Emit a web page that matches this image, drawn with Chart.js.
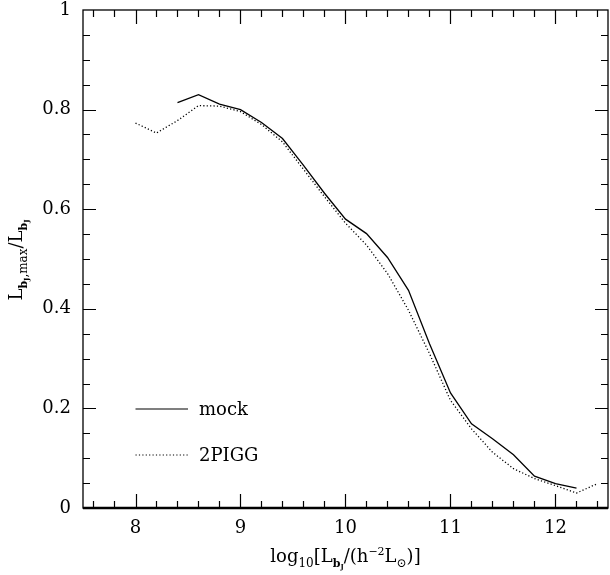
<!DOCTYPE html>
<html>
<head>
<meta charset="utf-8">
<script src="https://cdn.jsdelivr.net/npm/chart.js@4.4.1/dist/chart.umd.min.js"></script>
<style>
  html, body { margin: 0; padding: 0; background: #fff; }
  #wrap { width: 610px; height: 575px; }
</style>
</head>
<body>
<div id="wrap"><canvas id="c" width="610" height="575"></canvas></div>
<script>
// values
var mockX = [8.4, 8.6, 8.8, 9.0, 9.2, 9.4, 9.6, 9.8, 10.0, 10.2, 10.4, 10.6, 10.8, 11.0, 11.2, 11.4, 11.6, 11.8, 12.0, 12.2];
var mockY = [0.814, 0.830, 0.811, 0.800, 0.774, 0.742, 0.688, 0.632, 0.580, 0.551, 0.503, 0.437, 0.330, 0.231, 0.169, 0.139, 0.107, 0.064, 0.049, 0.040];

var piggX = [8.0, 8.2, 8.4, 8.6, 8.8, 9.0, 9.2, 9.4, 9.6, 9.8, 10.0, 10.2, 10.4, 10.6, 10.8, 11.0, 11.2, 11.4, 11.6, 11.8, 12.0, 12.2, 12.4];
var piggY = [0.773, 0.753, 0.778, 0.808, 0.807, 0.796, 0.770, 0.735, 0.680, 0.625, 0.572, 0.528, 0.471, 0.397, 0.310, 0.216, 0.159, 0.112, 0.079, 0.059, 0.045, 0.030, 0.049];

var xTicks = [8, 9, 10, 11, 12];
var yTicks = [0, 0.2, 0.4, 0.6, 0.8, 1];
var yTickLabels = ['0', '0.2', '0.4', '0.6', '0.8', '1'];
var seriesNames = ['mock', '2PIGG'];

var serif = '"DejaVu Serif", serif';

function toPoints(xs, ys) {
  var pts = [];
  for (var i = 0; i < xs.length; i++) pts.push({ x: xs[i], y: ys[i] });
  return pts;
}

// draw a string made of pieces with sub/superscripts, centred on x
function drawRich(ctx, parts, x, y) {
  var total = 0;
  parts.forEach(function (p) {
    ctx.font = (p.bold ? 'bold ' : '') + p.size + 'px ' + serif;
    p.w = ctx.measureText(p.t).width;
    total += p.w;
  });
  var cx = x - total / 2;
  ctx.textAlign = 'left';
  ctx.textBaseline = 'alphabetic';
  parts.forEach(function (p) {
    ctx.font = (p.bold ? 'bold ' : '') + p.size + 'px ' + serif;
    ctx.fillText(p.t, cx, y + (p.dy || 0));
    cx += p.w;
  });
}

var framePlugin = {
  id: 'frame',
  afterDraw: function (chart) {
    var ctx = chart.ctx;
    var a = chart.chartArea;
    var xs = chart.scales.x, ys = chart.scales.y;
    ctx.save();
    ctx.strokeStyle = '#000';
    ctx.fillStyle = '#000';

    // frame
    ctx.lineWidth = 1.3;
    ctx.strokeRect(a.left, a.top, a.right - a.left, a.bottom - a.top);
    ctx.lineWidth = 2.4;
    ctx.beginPath();
    ctx.moveTo(a.left, a.bottom);
    ctx.lineTo(a.right, a.bottom);
    ctx.stroke();

    // inward ticks on all four sides
    ctx.lineWidth = 1.2;
    ctx.beginPath();
    for (var v = 7.6; v < 12.5; v += 0.2) {
      var major = Math.abs(v - Math.round(v)) < 0.01;
      var len = major ? 14 : 7;
      var px = Math.round(xs.getPixelForValue(v)) + 0.5;
      ctx.moveTo(px, a.bottom); ctx.lineTo(px, a.bottom - len);
      ctx.moveTo(px, a.top); ctx.lineTo(px, a.top + len);
    }
    for (var w = 0.05; w < 1; w += 0.05) {
      var maj = Math.abs(w * 5 - Math.round(w * 5)) < 0.01;
      var l2 = maj ? 13 : 7;
      var py = Math.round(ys.getPixelForValue(w)) + 0.5;
      ctx.moveTo(a.left, py); ctx.lineTo(a.left + l2, py);
      ctx.moveTo(a.right, py); ctx.lineTo(a.right - l2, py);
    }
    ctx.stroke();

    // legend
    var lx0 = xs.getPixelForValue(8.0), lx1 = xs.getPixelForValue(8.5);
    var ly = [409, 455];
    ctx.lineWidth = 1.2;
    ctx.setLineDash([]);
    ctx.beginPath(); ctx.moveTo(lx0, ly[0]); ctx.lineTo(lx1, ly[0]); ctx.stroke();
    ctx.setLineDash([1.2, 2.2]);
    ctx.beginPath(); ctx.moveTo(lx0, ly[1]); ctx.lineTo(lx1, ly[1]); ctx.stroke();
    ctx.setLineDash([]);
    ctx.font = '18px ' + serif;
    ctx.textAlign = 'left';
    ctx.textBaseline = 'middle';
    ctx.fillText(seriesNames[0], lx1 + 11, ly[0] + 1);
    ctx.fillText(seriesNames[1], lx1 + 11, ly[1] + 1);

    // x title
    drawRich(ctx, [
      { t: 'log', size: 18 },
      { t: '10', size: 12, dy: 5 },
      { t: '[L', size: 18 },
      { t: 'b', size: 11, dy: 5, bold: true },
      { t: 'J', size: 7, dy: 7, bold: true },
      { t: '/(h', size: 18 },
      { t: '\u22122', size: 11, dy: -7 },
      { t: 'L', size: 18 },
      { t: '\u2299', size: 12, dy: 5 },
      { t: ')]', size: 18 }
    ], (a.left + a.right) / 2, 562);

    // y title, rotated
    ctx.translate(22, 260);
    ctx.rotate(-Math.PI / 2);
    drawRich(ctx, [
      { t: 'L', size: 18 },
      { t: 'b', size: 11, dy: 5, bold: true },
      { t: 'J', size: 7, dy: 7, bold: true },
      { t: ',max', size: 12, dy: 5 },
      { t: '/L', size: 18 },
      { t: 'b', size: 11, dy: 5, bold: true },
      { t: 'J', size: 7, dy: 7, bold: true }
    ], 0, 0);
    ctx.restore();
  }
};

new Chart(document.getElementById('c'), {
  type: 'line',
  data: {
    datasets: [
      {
        label: seriesNames[0],
        data: toPoints(mockX, mockY),
        borderColor: '#000',
        borderWidth: 1.3,
        pointRadius: 0,
        tension: 0,
        fill: false
      },
      {
        label: seriesNames[1],
        data: toPoints(piggX, piggY),
        borderColor: '#000',
        borderWidth: 1.3,
        borderDash: [1.2, 2.2],
        pointRadius: 0,
        tension: 0,
        fill: false
      }
    ]
  },
  options: {
    responsive: false,
    animation: false,
    layout: { padding: { top: 10, right: 2, left: 0, bottom: 0 } },
    plugins: { legend: { display: false }, tooltip: { enabled: false } },
    scales: {
      x: {
        type: 'linear',
        min: 7.5,
        max: 12.5,
        afterBuildTicks: function (s) { s.ticks = xTicks.map(function (v) { return { value: v }; }); },
        afterFit: function (s) { s.height = 67; s.paddingLeft = 0; s.paddingRight = 0; },
        grid: { display: false, drawTicks: false },
        border: { display: false },
        ticks: { color: '#000', padding: 10, font: { family: serif, size: 18 } }
      },
      y: {
        type: 'linear',
        min: 0,
        max: 1,
        afterBuildTicks: function (s) { s.ticks = yTicks.map(function (v) { return { value: v }; }); },
        afterFit: function (s) { s.width = 83; s.paddingTop = 0; s.paddingBottom = 0; },
        grid: { display: false, drawTicks: false },
        border: { display: false },
        ticks: {
          color: '#000',
          padding: 12,
          font: { family: serif, size: 18 },
          callback: function (v, i) { return yTickLabels[i]; }
        }
      }
    }
  },
  plugins: [framePlugin]
});
</script>
</body>
</html>
